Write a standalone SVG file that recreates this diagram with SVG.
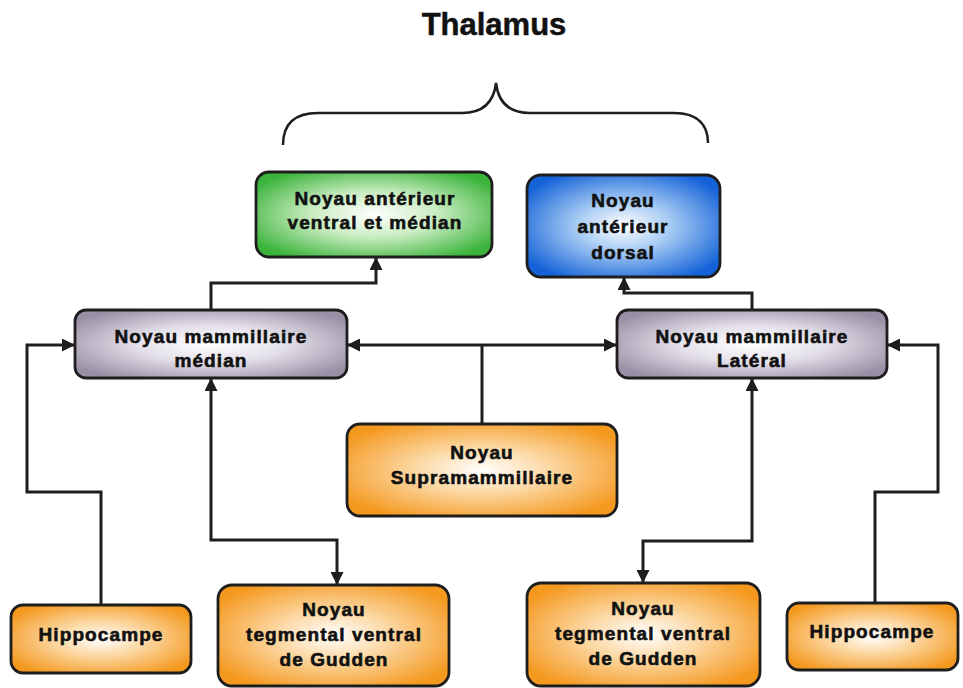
<svg xmlns="http://www.w3.org/2000/svg" width="963" height="688" viewBox="0 0 963 688">
<style>
.box{stroke:#1e1e1e;stroke-width:2.8}
.t{font-family:"Liberation Sans",Arial,sans-serif;font-weight:bold;font-size:19px;letter-spacing:1.1px;fill:#111;stroke:#111;stroke-width:0.6;text-anchor:middle}
.c{fill:none;stroke:#1e1e1e;stroke-width:3}
</style>
<defs>
<radialGradient id="gG" cx="50%" cy="50%" r="60%"><stop offset="0" stop-color="#ffffff"/><stop offset="0.45" stop-color="#c8ecc0"/><stop offset="1" stop-color="#3cb43c"/></radialGradient>
<radialGradient id="gB" cx="50%" cy="50%" r="60%"><stop offset="0" stop-color="#ffffff"/><stop offset="0.4" stop-color="#a8ccf4"/><stop offset="1" stop-color="#1462d8"/></radialGradient>
<radialGradient id="gP" cx="50%" cy="50%" r="60%"><stop offset="0" stop-color="#ffffff"/><stop offset="0.45" stop-color="#e4e0ea"/><stop offset="1" stop-color="#9a90a6"/></radialGradient>
<radialGradient id="gO" cx="50%" cy="50%" r="60%"><stop offset="0" stop-color="#ffffff"/><stop offset="0.4" stop-color="#fcd9a6"/><stop offset="1" stop-color="#f4981e"/></radialGradient>
<marker id="ar" viewBox="0 0 13 13" refX="13" refY="6.5" markerWidth="13" markerHeight="13" markerUnits="userSpaceOnUse" orient="auto-start-reverse"><path d="M0,0 L13,6.5 L0,13 z" fill="#1e1e1e"/></marker>
</defs>
<rect width="963" height="688" fill="#fff"/>
<text x="494" y="35" style="font-family:'Liberation Sans',Arial,sans-serif;font-weight:bold;font-size:31px;fill:#111;stroke:#111;stroke-width:0.5;text-anchor:middle">Thalamus</text>
<path d="M283,145 C283,126 292,113 318,113 L462,113 C485,113 494,100 496,83 C498,100 507,113 530,113 L674,113 C699,113 708,126 708,143" fill="none" stroke="#1e1e1e" stroke-width="2.5"/>

<g id="connectors">
<path class="c" d="M101,605 V492 H27 V345 H75" marker-end="url(#ar)"/>
<path class="c" d="M211,310 V283 H376 V257" marker-end="url(#ar)"/>
<path class="c" d="M752,310 V293 H624 V277" marker-end="url(#ar)"/>
<path class="c" d="M347,345 H617" marker-start="url(#ar)" marker-end="url(#ar)"/>
<path class="c" d="M482,424 V345"/>
<path class="c" d="M211,378 V540 H337 V585" marker-start="url(#ar)" marker-end="url(#ar)"/>
<path class="c" d="M752,378 V541 H643 V583" marker-start="url(#ar)" marker-end="url(#ar)"/>
<path class="c" d="M875,603 V492 H938 V345 H887" marker-end="url(#ar)"/>
</g>

<g id="n-ant-ventral">
<rect class="box" x="256" y="172" width="236" height="85" rx="13" fill="url(#gG)"/>
<text class="t" x="375" y="205">Noyau antérieur</text>
<text class="t" x="375" y="229">ventral et médian</text>
</g>
<g id="n-ant-dorsal">
<rect class="box" x="527" y="175" width="193" height="102" rx="14" fill="url(#gB)"/>
<text class="t" x="623" y="207">Noyau</text>
<text class="t" x="623" y="233">antérieur</text>
<text class="t" x="623" y="259">dorsal</text>
</g>
<g id="n-mam-median">
<rect class="box" x="75" y="310" width="272" height="68" rx="11" fill="url(#gP)"/>
<text class="t" x="211" y="343">Noyau mammillaire</text>
<text class="t" x="211" y="367">médian</text>
</g>
<g id="n-mam-lateral">
<rect class="box" x="617" y="310" width="270" height="68" rx="11" fill="url(#gP)"/>
<text class="t" x="752" y="343">Noyau mammillaire</text>
<text class="t" x="752" y="367">Latéral</text>
</g>
<g id="n-supra">
<rect class="box" x="347" y="424" width="270" height="92" rx="13" fill="url(#gO)"/>
<text class="t" x="482" y="459">Noyau</text>
<text class="t" x="482" y="484">Supramammillaire</text>
</g>
<g id="n-hippo-l">
<rect class="box" x="11" y="605" width="180" height="68" rx="12" fill="url(#gO)"/>
<text class="t" x="101" y="641">Hippocampe</text>
</g>
<g id="n-gudden-l">
<rect class="box" x="218" y="585" width="231" height="101" rx="14" fill="url(#gO)"/>
<text class="t" x="334" y="616">Noyau</text>
<text class="t" x="334" y="641">tegmental ventral</text>
<text class="t" x="334" y="666">de Gudden</text>
</g>
<g id="n-gudden-r">
<rect class="box" x="527" y="583" width="233" height="103" rx="14" fill="url(#gO)"/>
<text class="t" x="643" y="615">Noyau</text>
<text class="t" x="643" y="640">tegmental ventral</text>
<text class="t" x="643" y="665">de Gudden</text>
</g>
<g id="n-hippo-r">
<rect class="box" x="787" y="603" width="171" height="67" rx="12" fill="url(#gO)"/>
<text class="t" x="872" y="638">Hippocampe</text>
</g>
</svg>
